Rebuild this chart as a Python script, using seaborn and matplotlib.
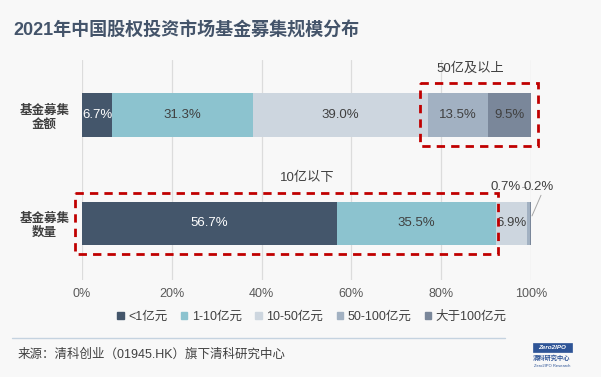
import matplotlib
matplotlib.use("Agg")
import matplotlib.pyplot as plt
import seaborn as sns
import numpy as np
from matplotlib.patches import Rectangle

sns.set_theme(style="white")
plt.rcParams['font.family'] = ['Liberation Sans', 'Noto Sans CJK SC', 'DejaVu Sans']

# ---- data ----
categories = ["基金募集\n金额", "基金募集\n数量"]
series_names = ["<1亿元", "1-10亿元", "10-50亿元", "50-100亿元", "大于100亿元"]
amount_share = [6.7, 31.3, 39.0, 13.5, 9.5]
count_share = [56.7, 35.5, 6.9, 0.7, 0.2]
x_ticks = [0, 20, 40, 60, 80, 100]
x_tick_labels = ["0%", "20%", "40%", "60%", "80%", "100%"]

colors = ["#44566b", "#8cc3cf", "#cdd6df", "#a2b1c2", "#7a879a"]
label_colors = ["white", "#404040", "#404040", "#404040", "#404040"]
bg = "#f8f8f8"

vals = np.array([amount_share, count_share])
cum = np.cumsum(vals, axis=1)

fig = plt.figure(figsize=(6.01, 3.77), dpi=100, facecolor=bg)
ax = fig.add_axes([82/601, 1-280/377, 449/601, 220/377])
ax.set_facecolor(bg)

for i in range(len(series_names) - 1, -1, -1):
    sns.barplot(x=cum[:, i], y=categories, color=colors[i], orient="h",
                width=0.405, saturation=1, linewidth=0, ax=ax, legend=False,
                zorder=3)

ax.set_xlim(0, 100)
ax.set_ylim(1.521, -0.507)
ax.set_xticks(x_ticks)
ax.set_xticklabels(x_tick_labels, fontsize=9, color="#595959")
ax.tick_params(axis="x", length=0, pad=6)
ax.tick_params(axis="y", length=0, pad=9)
for t in ax.get_yticklabels():
    t.set_fontsize(9)
    t.set_fontweight("bold")
    t.set_color("#3f3f3f")
    t.set_multialignment("center")
ax.set_xlabel("")
ax.set_ylabel("")
for s in ax.spines.values():
    s.set_visible(False)
for xv in x_ticks:
    ax.axvline(xv, color="#dcdcdc", lw=0.9, zorder=0)

# value labels
for r in range(2):
    left = 0
    for i, v in enumerate(vals[r]):
        if v >= 2:
            ax.text(left + v / 2, r, f"{v:.1f}%", ha="center", va="center",
                    fontsize=9.5, color=label_colors[i], zorder=5)
        left += v

# small labels for tiny segments
ax.text((506-82)/4.49, 0.66, "0.7%", ha="center", va="center", fontsize=9.5, color="#404040")
ax.text((539-82)/4.49, 0.66, "0.2%", ha="center", va="center", fontsize=9.5, color="#404040",
        clip_on=False)
ax.plot([(522-82)/4.49, (526-82)/4.49], [0.66, 0.66], color="#a6a6a6", lw=0.7, clip_on=False)
ax.plot([(541-82)/4.49, (532-82)/4.49], [0.74, 0.93], color="#a6a6a6", lw=0.7, clip_on=False)

# red dashed boxes
box_kw = dict(fill=False, edgecolor="#c00000", lw=2, ls=(0, (3, 2.2)), clip_on=False, zorder=6)
ax.add_patch(Rectangle((75.3, -0.295), 101.6 - 75.3, 0.286 + 0.295, **box_kw))
ax.add_patch(Rectangle((-1.56, 0.719), 92.65 + 1.56, 1.281 - 0.719, **box_kw))
ax.text((470-82)/4.49, -0.43, "50亿及以上", ha="center", va="center", fontsize=9.5, color="#404040")
ax.text((307-82)/4.49, 0.58, "10亿以下", ha="center", va="center", fontsize=9.5, color="#404040")

# legend
handles = [Rectangle((0, 0), 1, 1, color=c) for c in colors]
fig.legend(handles, series_names, loc="center", bbox_to_anchor=(312/601, 1-317/377),
           ncol=5, frameon=False, fontsize=9, handlelength=0.5, handleheight=0.5,
           handletextpad=0.35, columnspacing=1.1, labelcolor="#404040")

# title
fig.text(13/601, 1-31/377, "2021年中国股权投资市场基金募集规模分布", fontsize=13,
         fontweight="bold", color="#44546a", va="center", ha="left")

# separator and source
fig.add_artist(plt.Line2D([12/601, 505/601], [1-338/377, 1-338/377], color="#c5d3e0", lw=1))
fig.text(18/601, 1-355/377, "来源：清科创业（01945.HK）旗下清科研究中心", fontsize=9,
         color="#404040", va="center", ha="left")

# logo
fig.add_artist(Rectangle((533/601, 1-352/377), 39/601, 9/377, transform=fig.transFigure,
                         facecolor="#2f5597", edgecolor="#2f5597", lw=0.5))
fig.text(552/601, 1-347.5/377, "Zero2IPO", fontsize=4.5, color="white", fontweight="bold",
         ha="center", va="center", style="italic")
fig.text(552/601, 1-358/377, "清科研究中心", fontsize=4.5, color="#2f5597", fontweight="bold",
         ha="center", va="center")
fig.text(552/601, 1-366/377, "Zero2IPO Research", fontsize=3, color="#2f5597",
         ha="center", va="center")

fig.savefig("out.png", dpi=100, facecolor=bg)
